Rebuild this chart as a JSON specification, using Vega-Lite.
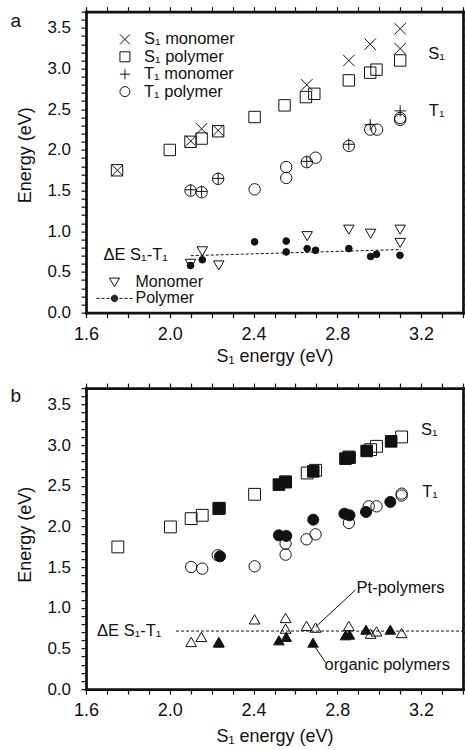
{
  "$schema": "https://vega.github.io/schema/vega-lite/v6.json",
  "padding": {"left": 10, "top": 2.65, "right": 0, "bottom": 0},
  "spacing": 75.5,
  "bounds": "flush",
  "config": {
    "font": "Liberation Sans",
    "view": {"stroke": null},
    "axis": {"domain": true, "domainWidth": 2.7, "domainColor": "#111", "domainCap": "square", "grid": false, "tickColor": "#111", "tickWidth": 1.2, "labelColor": "#111", "labelFont": "Liberation Sans", "titleFont": "Liberation Sans", "titleFontSize": 18, "titleFontWeight": "normal", "titleColor": "#111", "labelFlush": false, "labelOverlap": false, "labelBound": false, "minExtent": 0},
    "legend": {"labelFont": "Liberation Sans", "titleFont": "Liberation Sans", "labelColor": "#111", "titleColor": "#111", "padding": 0},
    "text": {"font": "Liberation Sans", "fontSize": 16.5, "color": "#111"}
  },
  "vconcat": [
    {
      "width": 377,
      "height": 301,
      "view": {"stroke": null},
      "layer": [
        {
          "data": {"values": [{"x": 2.1, "y": 0.70}, {"x": 3.105, "y": 0.776}]},
          "mark": {"type": "line", "strokeDash": [3, 2], "strokeWidth": 1, "color": "#111"},
          "encoding": {
            "x": {"field": "x", "type": "quantitative", "scale": {"domain": [1.6, 3.4], "nice": false, "zero": false},
              "axis": {"orient": "top", "values": [1.6,1.7,1.8,1.9,2.0,2.1,2.2,2.3,2.4,2.5,2.6,2.7,2.8,2.9,3.0,3.1,3.2,3.3,3.4], "labels": false, "title": null, "grid": false, "domain": true, "domainWidth": 2.7, "domainColor": "#111", "domainCap": "square", "ticks": true, "tickSize": 5, "tickColor": "#111",
                "encode": {"ticks": {"update": {"y2": {"signal": "round(datum.value*10) % 4 == 0 ? 8 : 5"}, "strokeWidth": {"signal": "round(datum.value*10) % 4 == 0 ? 1.8 : 1.2"}}}}}},
            "y": {"field": "y", "type": "quantitative", "scale": {"domain": [0, 3.7], "nice": false, "zero": false},
              "axis": {"orient": "right", "values": [0,0.1,0.2,0.3,0.4,0.5,0.6,0.7,0.8,0.9,1.0,1.1,1.2,1.3,1.4,1.5,1.6,1.7,1.8,1.9,2.0,2.1,2.2,2.3,2.4,2.5,2.6,2.7,2.8,2.9,3.0,3.1,3.2,3.3,3.4,3.5,3.6,3.7], "labels": false, "title": null, "grid": false, "domain": true, "domainWidth": 2.7, "domainColor": "#111", "domainCap": "square", "ticks": true, "tickSize": 5, "tickColor": "#111",
                "encode": {"ticks": {"update": {"x2": {"signal": "round(datum.value*10) % 5 == 0 ? -8 : -5"}, "strokeWidth": {"signal": "round(datum.value*10) % 5 == 0 ? 1.8 : 1.2"}}}}}}
          }
        },
        {
          "data": {"values": [
            {"series": "S₁ monomer", "x": 1.75, "y": 1.75},
            {"series": "S₁ monomer", "x": 2.1, "y": 2.11},
            {"series": "S₁ monomer", "x": 2.152, "y": 2.26},
            {"series": "S₁ monomer", "x": 2.231, "y": 2.24},
            {"series": "S₁ monomer", "x": 2.654, "y": 2.80},
            {"series": "S₁ monomer", "x": 2.855, "y": 3.10},
            {"series": "S₁ monomer", "x": 2.957, "y": 3.30},
            {"series": "S₁ monomer", "x": 3.10, "y": 3.49},
            {"series": "S₁ monomer", "x": 3.10, "y": 3.245},
            {"series": "S₁ polymer", "x": 1.748, "y": 1.75},
            {"series": "S₁ polymer", "x": 2.0, "y": 2.0},
            {"series": "S₁ polymer", "x": 2.099, "y": 2.10},
            {"series": "S₁ polymer", "x": 2.152, "y": 2.14},
            {"series": "S₁ polymer", "x": 2.231, "y": 2.23},
            {"series": "S₁ polymer", "x": 2.405, "y": 2.405},
            {"series": "S₁ polymer", "x": 2.548, "y": 2.548},
            {"series": "S₁ polymer", "x": 2.65, "y": 2.65},
            {"series": "S₁ polymer", "x": 2.69, "y": 2.69},
            {"series": "S₁ polymer", "x": 2.855, "y": 2.855},
            {"series": "S₁ polymer", "x": 2.957, "y": 2.95},
            {"series": "S₁ polymer", "x": 2.987, "y": 2.987},
            {"series": "S₁ polymer", "x": 3.10, "y": 3.10},
            {"series": "T₁ monomer", "x": 2.1, "y": 1.51},
            {"series": "T₁ monomer", "x": 2.152, "y": 1.49},
            {"series": "T₁ monomer", "x": 2.231, "y": 1.65},
            {"series": "T₁ monomer", "x": 2.654, "y": 1.86},
            {"series": "T₁ monomer", "x": 2.855, "y": 2.07},
            {"series": "T₁ monomer", "x": 2.957, "y": 2.31},
            {"series": "T₁ monomer", "x": 3.10, "y": 2.48},
            {"series": "T₁ polymer", "x": 2.099, "y": 1.50},
            {"series": "T₁ polymer", "x": 2.152, "y": 1.48},
            {"series": "T₁ polymer", "x": 2.231, "y": 1.645},
            {"series": "T₁ polymer", "x": 2.405, "y": 1.516},
            {"series": "T₁ polymer", "x": 2.556, "y": 1.79},
            {"series": "T₁ polymer", "x": 2.556, "y": 1.656},
            {"series": "T₁ polymer", "x": 2.654, "y": 1.85},
            {"series": "T₁ polymer", "x": 2.696, "y": 1.905},
            {"series": "T₁ polymer", "x": 2.855, "y": 2.05},
            {"series": "T₁ polymer", "x": 2.957, "y": 2.25},
            {"series": "T₁ polymer", "x": 2.99, "y": 2.25},
            {"series": "T₁ polymer", "x": 3.10, "y": 2.393},
            {"series": "T₁ polymer", "x": 3.10, "y": 2.37}
          ]},
          "mark": {"type": "point", "filled": false, "color": "#111", "strokeWidth": 1, "size": 130, "opacity": 1},
          "encoding": {
            "x": {"field": "x", "type": "quantitative", "scale": {"domain": [1.6, 3.4], "nice": false, "zero": false},
              "axis": {"orient": "bottom", "values": [1.6,1.7,1.8,1.9,2.0,2.1,2.2,2.3,2.4,2.5,2.6,2.7,2.8,2.9,3.0,3.1,3.2,3.3,3.4], "labelExpr": "round(datum.value*10) % 4 == 0 ? format(datum.value, '.1f') : ''", "labelFontSize": 18, "labelFont": "Liberation Sans", "labelColor": "#111", "labelFlush": false, "labelOverlap": false, "labelDx": 9, "labelPadding": 7.7, "grid": false, "domain": true, "domainWidth": 2.7, "domainColor": "#111", "domainCap": "square", "ticks": true, "tickSize": 5, "tickColor": "#111", "title": "S₁ energy (eV)", "titleFont": "Liberation Sans", "titleFontSize": 18, "titleFontWeight": "normal", "titleColor": "#111", "titleY": 49, "titleBaseline": "alphabetic",
                "encode": {"ticks": {"update": {"y2": {"signal": "round(datum.value*10) % 4 == 0 ? -8 : -5"}, "strokeWidth": {"signal": "round(datum.value*10) % 4 == 0 ? 1.8 : 1.2"}}}}}},
            "y": {"field": "y", "type": "quantitative", "scale": {"domain": [0, 3.7], "nice": false, "zero": false},
              "axis": {"orient": "left", "values": [0,0.1,0.2,0.3,0.4,0.5,0.6,0.7,0.8,0.9,1.0,1.1,1.2,1.3,1.4,1.5,1.6,1.7,1.8,1.9,2.0,2.1,2.2,2.3,2.4,2.5,2.6,2.7,2.8,2.9,3.0,3.1,3.2,3.3,3.4,3.5,3.6,3.7], "labelExpr": "round(datum.value*10) % 5 == 0 ? format(datum.value, '.1f') : ''", "labelFontSize": 17, "labelFont": "Liberation Sans", "labelColor": "#111", "labelFlush": false, "labelOverlap": false, "labelPadding": 10.5, "grid": false, "domain": true, "domainWidth": 2.7, "domainColor": "#111", "domainCap": "square", "ticks": true, "tickSize": 5, "tickColor": "#111", "title": "Energy (eV)", "titleFont": "Liberation Sans", "titleFontSize": 18, "titleFontWeight": "normal", "titleColor": "#111", "titleX": -56, "titleY": 143, "titleBaseline": "alphabetic",
                "encode": {"ticks": {"update": {"x2": {"signal": "round(datum.value*10) % 5 == 0 ? 8 : 5"}, "strokeWidth": {"signal": "round(datum.value*10) % 5 == 0 ? 1.8 : 1.2"}}}}}},
            "shape": {"field": "series", "type": "nominal",
              "scale": {"domain": ["S₁ monomer", "S₁ polymer", "T₁ monomer", "T₁ polymer"], "range": ["M-1,-1L1,1M-1,1L1,-1", "square", "M-1,0H1M0,-1V1", "circle"]},
              "legend": {"title": null, "orient": "none", "legendX": 30.7, "legendY": 19.5, "labelFontSize": 16.5, "labelFont": "Liberation Sans", "labelColor": "#111", "symbolSize": 100, "symbolStrokeWidth": 1, "symbolStrokeColor": "#111", "rowPadding": 0.4, "labelOffset": 10.8, "padding": 0}}
          }
        },
        {
          "data": {"values": [
            {"series": "Monomer", "x": 2.099, "y": 0.60},
            {"series": "Monomer", "x": 2.155, "y": 0.754},
            {"series": "Monomer", "x": 2.234, "y": 0.58},
            {"series": "Monomer", "x": 2.656, "y": 0.94},
            {"series": "Monomer", "x": 2.855, "y": 1.02},
            {"series": "Monomer", "x": 2.959, "y": 0.97},
            {"series": "Monomer", "x": 3.10, "y": 1.02},
            {"series": "Monomer", "x": 3.10, "y": 0.857},
            {"series": "Polymer", "x": 2.099, "y": 0.58},
            {"series": "Polymer", "x": 2.155, "y": 0.65},
            {"series": "Polymer", "x": 2.405, "y": 0.87},
            {"series": "Polymer", "x": 2.556, "y": 0.88},
            {"series": "Polymer", "x": 2.556, "y": 0.746},
            {"series": "Polymer", "x": 2.656, "y": 0.787},
            {"series": "Polymer", "x": 2.696, "y": 0.766},
            {"series": "Polymer", "x": 2.855, "y": 0.787},
            {"series": "Polymer", "x": 2.959, "y": 0.69},
            {"series": "Polymer", "x": 2.987, "y": 0.717},
            {"series": "Polymer", "x": 3.099, "y": 0.705}
          ]},
          "layer": [
            {
              "mark": {"type": "point", "filled": false, "color": "#111", "strokeWidth": 1, "size": 100, "opacity": 0},
              "encoding": {
                "x": {"field": "x", "type": "quantitative", "scale": {"domain": [1.6, 3.4], "nice": false, "zero": false}, "axis": null},
                "y": {"field": "y", "type": "quantitative", "scale": {"domain": [0, 3.7], "nice": false, "zero": false}, "axis": null},
                "shape": {"field": "series", "type": "nominal",
                  "scale": {"domain": ["Monomer", "Polymer"], "range": ["triangle-down", "M-3.6,0H-3M-2.6,0H-2M-1.6,0H-1M1,0H1.6M2,0H2.6M3,0H3.6M-0.65,0A0.65,0.65,0,1,1,0.65,0A0.65,0.65,0,1,1,-0.65,0M-0.55,0A0.55,0.55,0,1,1,0.55,0A0.55,0.55,0,1,1,-0.55,0M-0.45,0A0.45,0.45,0,1,1,0.45,0A0.45,0.45,0,1,1,-0.45,0M-0.35,0A0.35,0.35,0,1,1,0.35,0A0.35,0.35,0,1,1,-0.35,0M-0.25,0A0.25,0.25,0,1,1,0.25,0A0.25,0.25,0,1,1,-0.25,0M-0.15,0A0.15,0.15,0,1,1,0.15,0A0.15,0.15,0,1,1,-0.15,0M-0.06,0A0.06,0.06,0,1,1,0.06,0A0.06,0.06,0,1,1,-0.06,0"]},
                  "legend": {"title": "ΔE S₁-T₁", "titleFontSize": 16.5, "titleFont": "Liberation Sans", "titleColor": "#111", "titleFontWeight": "normal", "titlePadding": 10.75, "orient": "none", "legendX": 17.5, "legendY": 235.5, "symbolOffset": 3, "labelOffset": 13, "rowPadding": -2, "labelFontSize": 16, "labelFont": "Liberation Sans", "labelColor": "#111", "symbolSize": 100, "symbolStrokeWidth": 1, "symbolStrokeColor": "#111", "symbolFillColor": "transparent", "symbolOpacity": 1, "padding": 0}}
              }
            },
            {
              "mark": {"type": "point", "filled": true, "stroke": "#111", "strokeWidth": 1, "opacity": 1},
              "encoding": {
                "x": {"field": "x", "type": "quantitative", "scale": {"domain": [1.6, 3.4], "nice": false, "zero": false}, "axis": null},
                "y": {"field": "y", "type": "quantitative", "scale": {"domain": [0, 3.7], "nice": false, "zero": false}, "axis": null},
                "shape": {"field": "series", "type": "nominal", "scale": {"domain": ["Polymer", "Monomer"], "range": ["circle", "triangle-down"]}, "legend": null},
                "fill": {"field": "series", "type": "nominal", "scale": {"domain": ["Polymer", "Monomer"], "range": ["#111", "transparent"]}, "legend": null},
                "size": {"field": "series", "type": "nominal", "scale": {"domain": ["Polymer", "Monomer"], "range": [45, 110]}, "legend": null}
              }
            }
          ],
          "resolve": {"scale": {"shape": "independent", "fill": "independent", "size": "independent"}, "legend": {"shape": "independent", "fill": "independent", "size": "independent"}}
        },
        {
          "data": {"values": [{}]},
          "mark": {"type": "text", "text": "a", "align": "left", "baseline": "alphabetic", "font": "Liberation Sans", "fontSize": 19, "color": "#111", "dx": -75.5, "dy": 15.3},
          "encoding": {
            "x": {"datum": 1.6, "type": "quantitative", "scale": {"domain": [1.6, 3.4], "nice": false, "zero": false}, "axis": null},
            "y": {"datum": 3.7, "type": "quantitative", "scale": {"domain": [0, 3.7], "nice": false, "zero": false}, "axis": null}
          }
        },
        {
          "data": {"values": [{}]},
          "mark": {"type": "text", "text": "S₁", "align": "left", "baseline": "middle", "font": "Liberation Sans", "fontSize": 16.5, "color": "#111"},
          "encoding": {
            "x": {"datum": 3.234, "type": "quantitative", "scale": {"domain": [1.6, 3.4], "nice": false, "zero": false}, "axis": null},
            "y": {"datum": 3.18, "type": "quantitative", "scale": {"domain": [0, 3.7], "nice": false, "zero": false}, "axis": null}
          }
        },
        {
          "data": {"values": [{}]},
          "mark": {"type": "text", "text": "T₁", "align": "left", "baseline": "middle", "font": "Liberation Sans", "fontSize": 16.5, "color": "#111"},
          "encoding": {
            "x": {"datum": 3.237, "type": "quantitative", "scale": {"domain": [1.6, 3.4], "nice": false, "zero": false}, "axis": null},
            "y": {"datum": 2.48, "type": "quantitative", "scale": {"domain": [0, 3.7], "nice": false, "zero": false}, "axis": null}
          }
        }
      ],
      "resolve": {"scale": {"shape": "independent", "fill": "independent", "size": "independent"}, "legend": {"shape": "independent", "fill": "independent", "size": "independent"}, "axis": {"x": "independent", "y": "independent"}}
    },
    {
      "width": 377,
      "height": 301,
      "view": {"stroke": null},
      "layer": [
        {
          "data": {"values": [{"x": 2.03, "y": 0.714}, {"x": 3.4, "y": 0.714}]},
          "mark": {"type": "line", "strokeDash": [3, 2], "strokeWidth": 1, "color": "#111"},
          "encoding": {
            "x": {"field": "x", "type": "quantitative", "scale": {"domain": [1.6, 3.4], "nice": false, "zero": false},
              "axis": {"orient": "top", "values": [1.6,1.7,1.8,1.9,2.0,2.1,2.2,2.3,2.4,2.5,2.6,2.7,2.8,2.9,3.0,3.1,3.2,3.3,3.4], "labels": false, "title": null, "grid": false, "domain": true, "domainWidth": 2.7, "domainColor": "#111", "domainCap": "square", "ticks": true, "tickSize": 5, "tickColor": "#111",
                "encode": {"ticks": {"update": {"y2": {"signal": "round(datum.value*10) % 4 == 0 ? 8 : 5"}, "strokeWidth": {"signal": "round(datum.value*10) % 4 == 0 ? 1.8 : 1.2"}}}}}},
            "y": {"field": "y", "type": "quantitative", "scale": {"domain": [0, 3.7], "nice": false, "zero": false},
              "axis": {"orient": "right", "values": [0,0.1,0.2,0.3,0.4,0.5,0.6,0.7,0.8,0.9,1.0,1.1,1.2,1.3,1.4,1.5,1.6,1.7,1.8,1.9,2.0,2.1,2.2,2.3,2.4,2.5,2.6,2.7,2.8,2.9,3.0,3.1,3.2,3.3,3.4,3.5,3.6,3.7], "labels": false, "title": null, "grid": false, "domain": true, "domainWidth": 2.7, "domainColor": "#111", "domainCap": "square", "ticks": true, "tickSize": 5, "tickColor": "#111",
                "encode": {"ticks": {"update": {"x2": {"signal": "round(datum.value*10) % 5 == 0 ? -8 : -5"}, "strokeWidth": {"signal": "round(datum.value*10) % 5 == 0 ? 1.8 : 1.2"}}}}}}
          }
        },
        {
          "data": {"values": [
            {"series": "S₁ Pt", "x": 1.752, "y": 1.748},
            {"series": "S₁ Pt", "x": 2.003, "y": 1.994},
            {"series": "S₁ Pt", "x": 2.102, "y": 2.096},
            {"series": "S₁ Pt", "x": 2.155, "y": 2.137},
            {"series": "S₁ Pt", "x": 2.234, "y": 2.219},
            {"series": "S₁ Pt", "x": 2.405, "y": 2.395},
            {"series": "S₁ Pt", "x": 2.553, "y": 2.547},
            {"series": "S₁ Pt", "x": 2.656, "y": 2.657},
            {"series": "S₁ Pt", "x": 2.696, "y": 2.69},
            {"series": "S₁ Pt", "x": 2.855, "y": 2.854},
            {"series": "S₁ Pt", "x": 2.959, "y": 2.944},
            {"series": "S₁ Pt", "x": 2.987, "y": 2.985},
            {"series": "S₁ Pt", "x": 3.107, "y": 3.10},
            {"series": "T₁ Pt", "x": 2.102, "y": 1.502},
            {"series": "T₁ Pt", "x": 2.155, "y": 1.481},
            {"series": "T₁ Pt", "x": 2.229, "y": 1.645},
            {"series": "T₁ Pt", "x": 2.405, "y": 1.51},
            {"series": "T₁ Pt", "x": 2.553, "y": 1.789},
            {"series": "T₁ Pt", "x": 2.553, "y": 1.653},
            {"series": "T₁ Pt", "x": 2.653, "y": 1.842},
            {"series": "T₁ Pt", "x": 2.696, "y": 1.903},
            {"series": "T₁ Pt", "x": 2.855, "y": 2.043},
            {"series": "T₁ Pt", "x": 2.95, "y": 2.247},
            {"series": "T₁ Pt", "x": 2.987, "y": 2.247},
            {"series": "T₁ Pt", "x": 3.107, "y": 2.403},
            {"series": "T₁ Pt", "x": 3.107, "y": 2.38},
            {"series": "ΔE Pt", "x": 2.102, "y": 0.58},
            {"series": "ΔE Pt", "x": 2.151, "y": 0.642},
            {"series": "ΔE Pt", "x": 2.234, "y": 0.58},
            {"series": "ΔE Pt", "x": 2.405, "y": 0.858},
            {"series": "ΔE Pt", "x": 2.553, "y": 0.875},
            {"series": "ΔE Pt", "x": 2.553, "y": 0.744},
            {"series": "ΔE Pt", "x": 2.653, "y": 0.777},
            {"series": "ΔE Pt", "x": 2.696, "y": 0.756},
            {"series": "ΔE Pt", "x": 2.855, "y": 0.777},
            {"series": "ΔE Pt", "x": 2.959, "y": 0.682},
            {"series": "ΔE Pt", "x": 2.987, "y": 0.71},
            {"series": "ΔE Pt", "x": 3.107, "y": 0.69},
            {"series": "S₁ organic", "x": 2.237, "y": 2.225},
            {"series": "S₁ organic", "x": 2.521, "y": 2.514},
            {"series": "S₁ organic", "x": 2.553, "y": 2.547},
            {"series": "S₁ organic", "x": 2.685, "y": 2.677},
            {"series": "S₁ organic", "x": 2.839, "y": 2.833},
            {"series": "S₁ organic", "x": 2.858, "y": 2.846},
            {"series": "S₁ organic", "x": 2.94, "y": 2.928},
            {"series": "S₁ organic", "x": 3.057, "y": 3.046},
            {"series": "T₁ organic", "x": 2.24, "y": 1.633},
            {"series": "T₁ organic", "x": 2.521, "y": 1.891},
            {"series": "T₁ organic", "x": 2.556, "y": 1.883},
            {"series": "T₁ organic", "x": 2.685, "y": 2.083},
            {"series": "T₁ organic", "x": 2.834, "y": 2.157},
            {"series": "T₁ organic", "x": 2.858, "y": 2.137},
            {"series": "T₁ organic", "x": 2.937, "y": 2.178},
            {"series": "T₁ organic", "x": 3.053, "y": 2.301},
            {"series": "ΔE organic", "x": 2.234, "y": 0.572},
            {"series": "ΔE organic", "x": 2.521, "y": 0.60},
            {"series": "ΔE organic", "x": 2.556, "y": 0.642},
            {"series": "ΔE organic", "x": 2.684, "y": 0.572},
            {"series": "ΔE organic", "x": 2.839, "y": 0.662},
            {"series": "ΔE organic", "x": 2.858, "y": 0.67},
            {"series": "ΔE organic", "x": 2.937, "y": 0.731},
            {"series": "ΔE organic", "x": 3.053, "y": 0.731}
          ]},
          "mark": {"type": "point", "filled": true, "stroke": "#111", "strokeWidth": 1, "opacity": 1},
          "encoding": {
            "x": {"field": "x", "type": "quantitative", "scale": {"domain": [1.6, 3.4], "nice": false, "zero": false},
              "axis": {"orient": "bottom", "values": [1.6,1.7,1.8,1.9,2.0,2.1,2.2,2.3,2.4,2.5,2.6,2.7,2.8,2.9,3.0,3.1,3.2,3.3,3.4], "labelExpr": "round(datum.value*10) % 4 == 0 ? format(datum.value, '.1f') : ''", "labelFontSize": 18, "labelFont": "Liberation Sans", "labelColor": "#111", "labelFlush": false, "labelOverlap": false, "labelDx": 9, "labelPadding": 7.7, "grid": false, "domain": true, "domainWidth": 2.7, "domainColor": "#111", "domainCap": "square", "ticks": true, "tickSize": 5, "tickColor": "#111", "title": "S₁ energy (eV)", "titleFont": "Liberation Sans", "titleFontSize": 18, "titleFontWeight": "normal", "titleColor": "#111", "titleY": 52, "titleBaseline": "alphabetic",
                "encode": {"ticks": {"update": {"y2": {"signal": "round(datum.value*10) % 4 == 0 ? -8 : -5"}, "strokeWidth": {"signal": "round(datum.value*10) % 4 == 0 ? 1.8 : 1.2"}}}}}},
            "y": {"field": "y", "type": "quantitative", "scale": {"domain": [0, 3.7], "nice": false, "zero": false},
              "axis": {"orient": "left", "values": [0,0.1,0.2,0.3,0.4,0.5,0.6,0.7,0.8,0.9,1.0,1.1,1.2,1.3,1.4,1.5,1.6,1.7,1.8,1.9,2.0,2.1,2.2,2.3,2.4,2.5,2.6,2.7,2.8,2.9,3.0,3.1,3.2,3.3,3.4,3.5,3.6,3.7], "labelExpr": "round(datum.value*10) % 5 == 0 ? format(datum.value, '.1f') : ''", "labelFontSize": 17, "labelFont": "Liberation Sans", "labelColor": "#111", "labelFlush": false, "labelOverlap": false, "labelPadding": 10.5, "grid": false, "domain": true, "domainWidth": 2.7, "domainColor": "#111", "domainCap": "square", "ticks": true, "tickSize": 5, "tickColor": "#111", "title": "Energy (eV)", "titleFont": "Liberation Sans", "titleFontSize": 18, "titleFontWeight": "normal", "titleColor": "#111", "titleX": -56, "titleY": 146, "titleBaseline": "alphabetic",
                "encode": {"ticks": {"update": {"x2": {"signal": "round(datum.value*10) % 5 == 0 ? 8 : 5"}, "strokeWidth": {"signal": "round(datum.value*10) % 5 == 0 ? 1.8 : 1.2"}}}}}},
            "shape": {"field": "series", "type": "nominal", "scale": {"domain": ["S₁ Pt", "S₁ organic", "T₁ Pt", "T₁ organic", "ΔE Pt", "ΔE organic"], "range": ["square", "square", "circle", "circle", "triangle-up", "triangle-up"]}, "legend": null},
            "fill": {"field": "series", "type": "nominal", "scale": {"domain": ["S₁ Pt", "S₁ organic", "T₁ Pt", "T₁ organic", "ΔE Pt", "ΔE organic"], "range": ["transparent", "#111", "transparent", "#111", "transparent", "#111"]}, "legend": null},
            "size": {"field": "series", "type": "nominal", "scale": {"domain": ["S₁ Pt", "S₁ organic", "T₁ Pt", "T₁ organic", "ΔE Pt", "ΔE organic"], "range": [140, 110, 121, 75, 115, 121]}, "legend": null}
          }
        },
        {
          "data": {"values": [{}]},
          "mark": {"type": "rule", "color": "#111", "strokeWidth": 1},
          "encoding": {
            "x": {"datum": 2.887, "type": "quantitative", "scale": {"domain": [1.6, 3.4], "nice": false, "zero": false}, "axis": null},
            "y": {"datum": 1.22, "type": "quantitative", "scale": {"domain": [0, 3.7], "nice": false, "zero": false}, "axis": null},
            "x2": {"datum": 2.696},
            "y2": {"datum": 0.765}
          }
        },
        {
          "data": {"values": [{}]},
          "mark": {"type": "rule", "color": "#111", "strokeWidth": 1},
          "encoding": {
            "x": {"datum": 2.696, "type": "quantitative", "scale": {"domain": [1.6, 3.4], "nice": false, "zero": false}, "axis": null},
            "y": {"datum": 0.51, "type": "quantitative", "scale": {"domain": [0, 3.7], "nice": false, "zero": false}, "axis": null},
            "x2": {"datum": 2.744},
            "y2": {"datum": 0.327}
          }
        },
        {
          "data": {"values": [{}]},
          "mark": {"type": "text", "text": "b", "align": "left", "baseline": "alphabetic", "font": "Liberation Sans", "fontSize": 19, "color": "#111", "dx": -75.5, "dy": 13.8},
          "encoding": {
            "x": {"datum": 1.6, "type": "quantitative", "scale": {"domain": [1.6, 3.4], "nice": false, "zero": false}, "axis": null},
            "y": {"datum": 3.7, "type": "quantitative", "scale": {"domain": [0, 3.7], "nice": false, "zero": false}, "axis": null}
          }
        },
        {
          "data": {"values": [{}]},
          "mark": {"type": "text", "text": "S₁", "align": "left", "baseline": "middle", "font": "Liberation Sans", "fontSize": 16.5, "color": "#111"},
          "encoding": {
            "x": {"datum": 3.20, "type": "quantitative", "scale": {"domain": [1.6, 3.4], "nice": false, "zero": false}, "axis": null},
            "y": {"datum": 3.19, "type": "quantitative", "scale": {"domain": [0, 3.7], "nice": false, "zero": false}, "axis": null}
          }
        },
        {
          "data": {"values": [{}]},
          "mark": {"type": "text", "text": "T₁", "align": "left", "baseline": "middle", "font": "Liberation Sans", "fontSize": 16.5, "color": "#111"},
          "encoding": {
            "x": {"datum": 3.205, "type": "quantitative", "scale": {"domain": [1.6, 3.4], "nice": false, "zero": false}, "axis": null},
            "y": {"datum": 2.42, "type": "quantitative", "scale": {"domain": [0, 3.7], "nice": false, "zero": false}, "axis": null}
          }
        },
        {
          "data": {"values": [{}]},
          "mark": {"type": "text", "text": "ΔE S₁-T₁", "align": "left", "baseline": "middle", "font": "Liberation Sans", "fontSize": 16.5, "color": "#111"},
          "encoding": {
            "x": {"datum": 1.653, "type": "quantitative", "scale": {"domain": [1.6, 3.4], "nice": false, "zero": false}, "axis": null},
            "y": {"datum": 0.715, "type": "quantitative", "scale": {"domain": [0, 3.7], "nice": false, "zero": false}, "axis": null}
          }
        },
        {
          "data": {"values": [{}]},
          "mark": {"type": "text", "text": "Pt-polymers", "align": "left", "baseline": "middle", "font": "Liberation Sans", "fontSize": 16.5, "color": "#111"},
          "encoding": {
            "x": {"datum": 2.892, "type": "quantitative", "scale": {"domain": [1.6, 3.4], "nice": false, "zero": false}, "axis": null},
            "y": {"datum": 1.244, "type": "quantitative", "scale": {"domain": [0, 3.7], "nice": false, "zero": false}, "axis": null}
          }
        },
        {
          "data": {"values": [{}]},
          "mark": {"type": "text", "text": "organic polymers", "align": "left", "baseline": "middle", "font": "Liberation Sans", "fontSize": 16.5, "color": "#111"},
          "encoding": {
            "x": {"datum": 2.739, "type": "quantitative", "scale": {"domain": [1.6, 3.4], "nice": false, "zero": false}, "axis": null},
            "y": {"datum": 0.293, "type": "quantitative", "scale": {"domain": [0, 3.7], "nice": false, "zero": false}, "axis": null}
          }
        }
      ],
      "resolve": {"scale": {"shape": "independent", "fill": "independent", "size": "independent"}, "axis": {"x": "independent", "y": "independent"}}
    }
  ]
}
